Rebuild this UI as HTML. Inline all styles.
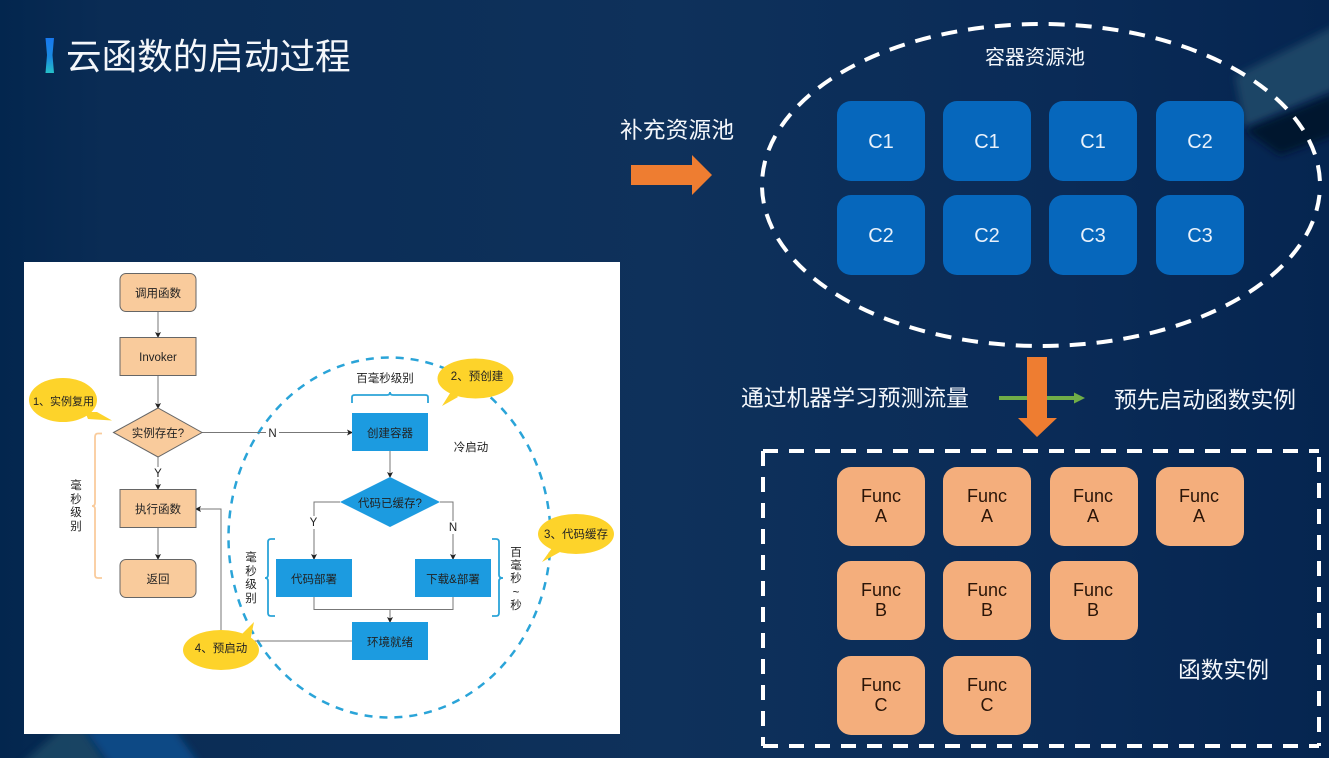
<!DOCTYPE html>
<html><head><meta charset="utf-8"><style>
html,body{margin:0;padding:0;width:1329px;height:758px;overflow:hidden;background:#0c2d56}
svg{display:block}
text{font-family:"Liberation Sans","Noto Sans CJK SC",sans-serif}
.w{fill:#f4f7fb}
.k{fill:#222;font-size:11.5px;text-anchor:middle}
.f{fill:#2a1508;font-size:18px;text-anchor:middle}
.c{fill:#e8f1fb;font-size:20px;text-anchor:middle}
.l{stroke:#777;stroke-width:1;fill:none}
.o{fill:#f9cb9c;stroke:#666;stroke-width:1}
.b{fill:#1b9be0}
.y{fill:#fdd32c}
</style></head><body>
<svg width="1329" height="758" viewBox="0 0 1329 758" xmlns="http://www.w3.org/2000/svg">
<defs>
<linearGradient id="bg" x1="0" y1="0" x2="1" y2="0"><stop offset="0" stop-color="#03264e"/><stop offset=".08" stop-color="#0a2c55"/><stop offset=".5" stop-color="#0e315b"/><stop offset=".8" stop-color="#0a2b57"/><stop offset="1" stop-color="#052550"/></linearGradient>
<linearGradient id="bar" x1="0" y1="0" x2="0" y2="1"><stop offset="0" stop-color="#1878ee"/><stop offset=".55" stop-color="#1a8ae0"/><stop offset="1" stop-color="#25c0c8"/></linearGradient>
<filter id="bl" x="-30%" y="-30%" width="160%" height="160%"><feGaussianBlur stdDeviation="4"/></filter>
<filter id="s"><feGaussianBlur stdDeviation=".35"/></filter>
<marker id="a" markerWidth="6" markerHeight="6" refX="5" refY="3" orient="auto" markerUnits="userSpaceOnUse"><path d="M0 0L6 3L0 6L1.4 3Z" fill="#222"/></marker>
</defs>
<rect width="1329" height="758" fill="url(#bg)"/>
<path d="M1235 76L1335 26V90L1245 128Z" fill="#1d4566" filter="url(#bl)"/>
<path d="M1245 130L1335 94V135L1280 155Z" fill="#04152e" filter="url(#bl)"/>
<path d="M15 770L60 730H85L110 770Z" fill="#1d4a66" opacity=".85" filter="url(#bl)"/>
<path d="M85 730H175L200 765H110Z" fill="#074a85" filter="url(#bl)"/>

<path d="M45.500 38H54L52.500 55L54 73H45.500L47 55Z" fill="url(#bar)"/>
<text x="66" y="69" font-size="35.600" class="w">云函数的启动过程</text>

<text x="620" y="138" font-size="22.800" class="w">补充资源池</text>
<path d="M631 165H692V155L712 175L692 195V185H631Z" fill="#ee7d31"/>
<text x="1035" y="64" font-size="20" class="w" text-anchor="middle">容器资源池</text>
<ellipse cx="1041" cy="185" rx="279" ry="161" fill="none" stroke="#fff" stroke-width="4" stroke-dasharray="16 11" stroke-dashoffset="17"/>

<g fill="#0667bc">
<rect x="837" y="101" width="88" height="80" rx="14"/><rect x="943" y="101" width="88" height="80" rx="14"/><rect x="1049" y="101" width="88" height="80" rx="14"/><rect x="1156" y="101" width="88" height="80" rx="14"/>
<rect x="837" y="195" width="88" height="80" rx="14"/><rect x="943" y="195" width="88" height="80" rx="14"/><rect x="1049" y="195" width="88" height="80" rx="14"/><rect x="1156" y="195" width="88" height="80" rx="14"/>
</g>
<text class="c" x="881" y="148">C1</text><text class="c" x="987" y="148">C1</text><text class="c" x="1093" y="148">C1</text><text class="c" x="1200" y="148">C2</text>
<text class="c" x="881" y="242">C2</text><text class="c" x="987" y="242">C2</text><text class="c" x="1093" y="242">C3</text><text class="c" x="1200" y="242">C3</text>

<text x="741" y="406" font-size="22.800" class="w">通过机器学习预测流量</text>
<path d="M999 396H1074V392.500L1085 398L1074 403.500V400H999Z" fill="#70ad47"/>
<path d="M1027 357H1047V418H1057L1037 437L1018 418H1027Z" fill="#ee7d31"/>
<text x="1114" y="408" font-size="22.750" class="w">预先启动函数实例</text>

<g fill="none" stroke="#fff" stroke-width="4" stroke-dasharray="15 11">
<path d="M763 451H1319"/><path d="M763 451V746"/><path d="M1319 746H763" stroke-dashoffset="5"/><path d="M1319 451V746" stroke-dashoffset="20"/>
</g>
<g fill="#f4ae7c">
<rect x="837" y="467" width="88" height="79" rx="14"/><rect x="943" y="467" width="88" height="79" rx="14"/><rect x="1050" y="467" width="88" height="79" rx="14"/><rect x="1156" y="467" width="88" height="79" rx="14"/>
<rect x="837" y="561" width="88" height="79" rx="14"/><rect x="943" y="561" width="88" height="79" rx="14"/><rect x="1050" y="561" width="88" height="79" rx="14"/>
<rect x="837" y="656" width="88" height="79" rx="14"/><rect x="943" y="656" width="88" height="79" rx="14"/>
</g>
<text class="f" x="881" y="502">Func</text><text class="f" x="881" y="522">A</text>
<text class="f" x="987" y="502">Func</text><text class="f" x="987" y="522">A</text>
<text class="f" x="1093" y="502">Func</text><text class="f" x="1093" y="522">A</text>
<text class="f" x="1199" y="502">Func</text><text class="f" x="1199" y="522">A</text>
<text class="f" x="881" y="596">Func</text><text class="f" x="881" y="616">B</text>
<text class="f" x="987" y="596">Func</text><text class="f" x="987" y="616">B</text>
<text class="f" x="1093" y="596">Func</text><text class="f" x="1093" y="616">B</text>
<text class="f" x="881" y="691">Func</text><text class="f" x="881" y="711">C</text>
<text class="f" x="987" y="691">Func</text><text class="f" x="987" y="711">C</text>
<text x="1178" y="678" font-size="22.750" class="w">函数实例</text>

<rect x="24" y="262" width="596" height="472" fill="#fff"/>
<g filter="url(#s)">
<ellipse cx="389.500" cy="537.500" rx="161" ry="180" fill="none" stroke="#2ba4d8" stroke-width="2.500" stroke-dasharray="8 7"/>

<path class="l" d="M158 312V337" marker-end="url(#a)"/>
<path class="l" d="M158 375V408" marker-end="url(#a)"/>
<path class="l" d="M158 457V489" marker-end="url(#a)"/>
<path class="l" d="M158 527V559" marker-end="url(#a)"/>
<path class="l" d="M202 432.500H352" marker-end="url(#a)"/>
<path class="l" d="M390 451V477" marker-end="url(#a)"/>
<path class="l" d="M340 502H314V559" marker-end="url(#a)"/>
<path class="l" d="M440 502H453V559" marker-end="url(#a)"/>
<path class="l" d="M314 597V609.500H453V597"/>
<path class="l" d="M390 609.500V622" marker-end="url(#a)"/>
<path class="l" d="M352 641H221V509H196" marker-end="url(#a)"/>

<rect class="o" x="120" y="273.500" width="76" height="38" rx="6"/>
<rect class="o" x="120" y="337.500" width="76" height="38"/>
<path class="o" d="M113.500 432.500L158 408L202 432.500L158 457Z"/>
<rect class="o" x="120" y="489.500" width="76" height="38"/>
<rect class="o" x="120" y="559.500" width="76" height="38" rx="6"/>
<text class="k" x="158" y="297">调用函数</text>
<text class="k" x="158" y="361">Invoker</text>
<text class="k" x="158" y="437">实例存在?</text>
<text class="k" x="158" y="513">执行函数</text>
<text class="k" x="158" y="583">返回</text>

<rect class="b" x="352" y="413" width="76" height="38"/>
<path class="b" d="M340 502L390 477L440 502L390 527Z"/>
<rect class="b" x="276" y="559" width="76" height="38"/>
<rect class="b" x="415" y="559" width="76" height="38"/>
<rect class="b" x="352" y="622" width="76" height="38"/>
<text class="k" x="390" y="437">创建容器</text>
<text class="k" x="390" y="507">代码已缓存?</text>
<text class="k" x="314" y="583">代码部署</text>
<text class="k" x="453" y="583">下载&amp;部署</text>
<text class="k" x="390" y="646">环境就绪</text>

<rect x="266" y="427" width="13" height="12" fill="#fff"/><text class="k" x="272.500" y="437">N</text>
<rect x="152" y="467" width="12" height="12" fill="#fff"/><text class="k" x="158" y="477">Y</text>
<rect x="307" y="516" width="13" height="13" fill="#fff"/><text class="k" x="313.500" y="526">Y</text>
<rect x="447" y="521" width="13" height="13" fill="#fff"/><text class="k" x="453" y="531">N</text>

<text class="k" x="385" y="382">百毫秒级别</text>
<text class="k" x="471" y="451">冷启动</text>

<path d="M102 433.500H98Q95 433.500 95 437V503Q95 506 92 506Q95 506 95 509V575Q95 578 98 578H102" fill="none" stroke="#f9cb9c" stroke-width="1.800"/>
<path d="M352 403V397Q352 395 355 395H387Q390 395 390 392Q390 395 393 395H425Q428 395 428 397V403" fill="none" stroke="#2ba4d8" stroke-width="1.800"/>
<path d="M275 539H271Q268 539 268 542V575Q268 578 265 578Q268 578 268 581V613Q268 616 271 616H275" fill="none" stroke="#2ba4d8" stroke-width="1.800"/>
<path d="M492 539H496Q499 539 499 542V575Q499 578 503 578Q499 578 499 581V613Q499 616 496 616H492" fill="none" stroke="#2ba4d8" stroke-width="1.800"/>

<text class="k" x="76" y="489">毫</text><text class="k" x="76" y="503">秒</text><text class="k" x="76" y="516">级</text><text class="k" x="76" y="530">别</text>
<text class="k" x="251" y="561">毫</text><text class="k" x="251" y="575">秒</text><text class="k" x="251" y="588">级</text><text class="k" x="251" y="602">别</text>
<text class="k" x="516" y="556">百</text><text class="k" x="516" y="569">毫</text><text class="k" x="516" y="582">秒</text><text class="k" x="516" y="596">~</text><text class="k" x="516" y="609">秒</text>

<ellipse class="y" cx="63" cy="400" rx="34" ry="22"/><path class="y" d="M85 412L97 412L112 420.500L88 419Z"/>
<text class="k" x="63.500" y="405" style="font-size:11px">1、实例复用</text>
<ellipse class="y" cx="475.500" cy="378.500" rx="38" ry="20"/><path class="y" d="M452 390L442 406L458 397Z"/>
<text class="k" x="477" y="380">2、预创建</text>
<ellipse class="y" cx="576" cy="534" rx="38" ry="20"/><path class="y" d="M552 548L542 562L560 552Z"/>
<text class="k" x="576" y="538">3、代码缓存</text>
<ellipse class="y" cx="221" cy="650" rx="38" ry="20"/><path class="y" d="M240 636L254 622L250 642Z"/>
<text class="k" x="221" y="652">4、预启动</text>
</g>
</svg>
</body></html>
